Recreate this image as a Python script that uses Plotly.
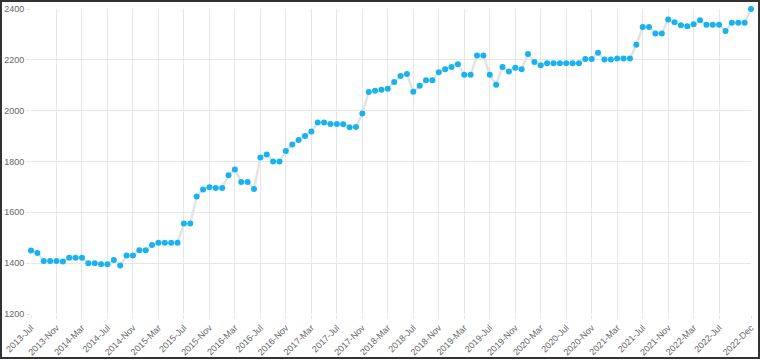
import plotly.graph_objects as go

years = list(range(2013, 2023))
month_names = ["Jan", "Feb", "Mar", "Apr", "May", "Jun", "Jul", "Aug", "Sep", "Oct", "Nov", "Dec"]
categories = [f"{y}-{m}" for y in years for m in month_names][6:]  # 2013-Jul .. 2022-Dec

values = [
    1450, 1440, 1409, 1409, 1409, 1407,                      # 2013 Jul-Dec
    1421, 1421, 1421, 1400, 1400, 1396, 1396, 1412, 1391, 1430, 1430, 1451,  # 2014
    1451, 1471, 1480, 1480, 1480, 1480, 1556, 1556, 1662, 1690, 1699, 1696,  # 2015
    1696, 1746, 1769, 1719, 1719, 1692, 1816, 1828, 1800, 1800, 1841, 1867,  # 2016
    1885, 1900, 1918, 1953, 1953, 1948, 1948, 1947, 1935, 1936, 1989, 2073,  # 2017
    2078, 2082, 2086, 2113, 2136, 2144, 2074, 2098, 2120, 2120, 2151, 2163,  # 2018
    2172, 2183, 2141, 2141, 2217, 2217, 2141, 2102, 2172, 2154, 2169, 2163,  # 2019
    2223, 2191, 2179, 2187, 2187, 2187, 2187, 2187, 2187, 2203, 2203, 2228,  # 2020
    2201, 2201, 2205, 2205, 2205, 2259, 2329, 2329, 2304, 2304, 2359, 2348,  # 2021
    2336, 2332, 2340, 2356, 2338, 2338, 2338, 2313, 2346, 2346, 2346, 2400,  # 2022
]

tick_labels = [
    "2013-Jul", "2013-Nov", "2014-Mar", "2014-Jul", "2014-Nov", "2015-Mar", "2015-Jul",
    "2015-Nov", "2016-Mar", "2016-Jul", "2016-Nov", "2017-Mar", "2017-Jul", "2017-Nov",
    "2018-Mar", "2018-Jul", "2018-Nov", "2019-Mar", "2019-Jul", "2019-Nov", "2020-Mar",
    "2020-Jul", "2020-Nov", "2021-Mar", "2021-Jul", "2021-Nov", "2022-Mar", "2022-Jul",
    "2022-Dec",
]
y_ticks = [1200, 1400, 1600, 1800, 2000, 2200, 2400]

W, H = 760, 360
L, R, T, B = 31, 9, 9, 46

fig = go.Figure()
fig.add_trace(go.Scatter(
    x=categories, y=values, mode="lines+markers",
    line=dict(color="#e3e3e3", width=2.5),
    marker=dict(color="#17b3f0", size=6),
    cliponaxis=False, hoverinfo="x+y",
))

grid = "#e6e6e6"
fig.update_layout(
    width=W, height=H,
    margin=dict(l=L, r=R, t=T, b=B, autoexpand=False),
    paper_bgcolor="white", plot_bgcolor="white",
    showlegend=False,
    font=dict(family="Liberation Sans, Arial, sans-serif", size=9, color="#666666"),
    xaxis=dict(
        type="category", categoryorder="array", categoryarray=categories,
        range=[0, len(categories) - 1], automargin=False,
        tickmode="array", tickvals=tick_labels, ticktext=tick_labels,
        tickangle=-45, showgrid=True, gridcolor=grid, gridwidth=1,
        ticks="outside", ticklen=4, tickcolor=grid,
        showline=False, zeroline=False,
    ),
    yaxis=dict(
        range=[1200, 2400], tickmode="array", tickvals=y_ticks, automargin=False,
        showgrid=True, gridcolor=grid, gridwidth=1,
        ticks="outside", ticklen=4, tickcolor=grid,
        showline=False, zeroline=False,
    ),
)

pw, ph = W - L - R, H - T - B
fig.add_shape(
    type="rect", xref="paper", yref="paper",
    x0=(1 - L) / pw, x1=(W - 1 - L) / pw,
    y0=(H - B - (H - 2)) / ph, y1=(H - B - 1) / ph,
    line=dict(color="#333333", width=2), fillcolor="rgba(0,0,0,0)",
    layer="above",
)

fig.write_html(
    "out.html",
    config={"displayModeBar": False},
    post_script="document.body.style.margin='0';document.body.style.overflow='hidden';",
)
